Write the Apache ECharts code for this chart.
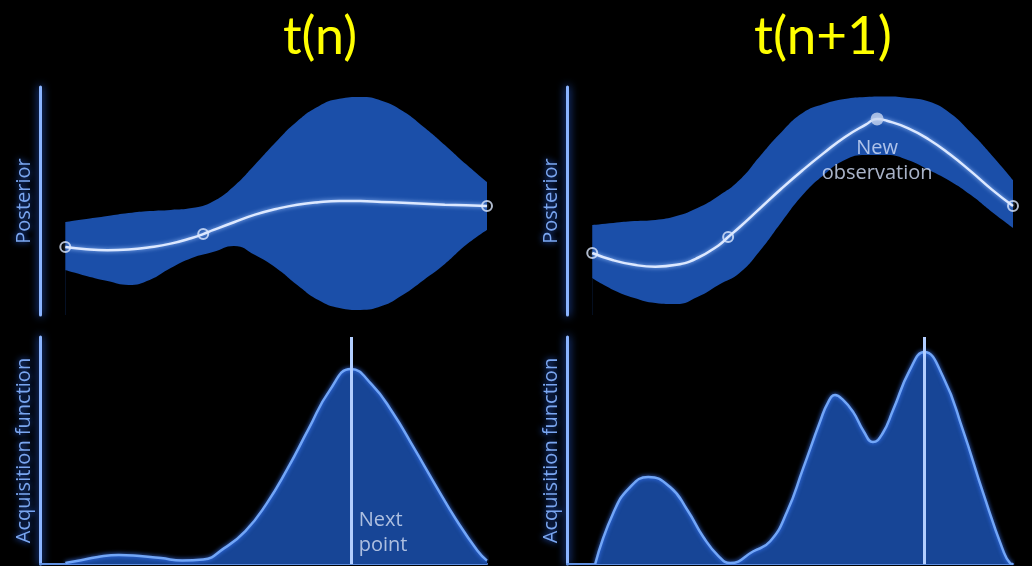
<!DOCTYPE html>
<html>
<head>
<meta charset="utf-8">
<title>t(n) / t(n+1)</title>
<script src="https://cdn.jsdelivr.net/npm/echarts@6/dist/echarts.min.js"></script>
<style>
  html, body { margin: 0; padding: 0; background: #000; }
  #main { width: 1032px; height: 566px; }
</style>
</head>
<body>
<div id="main"></div>
<script>
// ---- data (y on a 0..10 scale) ----
var titles = ['t(n)', 't(n+1)'];

// posterior band, shared x samples
var bandX = [0, 0.5, 1, 1.5, 2, 2.5, 3, 3.5, 4, 4.5, 5, 5.5, 6, 6.5, 7, 7.5, 8, 8.5, 9, 9.5, 10];
var bandUpperN = [4.08, 4.21, 4.34, 4.47, 4.56, 4.61, 4.69, 4.98, 5.65, 6.60, 7.60, 8.50, 9.15, 9.48, 9.56, 9.40, 8.95, 8.25, 7.46, 6.62, 5.83];
var bandLowerN = [1.97, 1.71, 1.49, 1.32, 1.54, 2.06, 2.50, 2.76, 3.03, 2.63, 2.06, 1.32, 0.66, 0.31, 0.22, 0.39, 0.88, 1.54, 2.24, 3.07, 3.73];
var bandUpperN1 = [3.95, 4.04, 4.12, 4.17, 4.34, 4.69, 5.22, 5.92, 7.00, 8.03, 8.86, 9.25, 9.47, 9.56, 9.58, 9.52, 9.36, 8.86, 8.00, 7.00, 5.92];
var bandLowerN1 = [1.62, 1.10, 0.75, 0.53, 0.48, 0.79, 1.32, 1.84, 2.85, 4.08, 5.26, 6.14, 6.80, 7.02, 7.02, 6.80, 6.36, 5.88, 5.26, 4.52, 3.82];

// posterior mean
var meanXN = [0, 0.5, 1, 1.5, 2, 2.5, 3, 3.27, 3.5, 4, 4.5, 5, 5.5, 6, 6.5, 7, 7.5, 8, 8.5, 9, 9.5, 10];
var meanN = [2.98, 2.88, 2.84, 2.87, 2.97, 3.13, 3.38, 3.55, 3.72, 4.07, 4.40, 4.65, 4.84, 4.95, 5.00, 5.00, 4.96, 4.92, 4.88, 4.84, 4.81, 4.78];
var meanXN1 = [0, 0.5, 1, 1.5, 2, 2.5, 3, 3.23, 3.5, 4, 4.5, 5, 5.5, 6, 6.5, 6.77, 7, 7.5, 8, 8.5, 9, 9.5, 10];
var meanN1 = [2.72, 2.40, 2.20, 2.12, 2.20, 2.50, 3.05, 3.42, 3.85, 4.70, 5.55, 6.35, 7.10, 7.80, 8.35, 8.60, 8.52, 8.20, 7.70, 7.05, 6.30, 5.50, 4.78];

// observations
var obsXN = [0, 3.27, 10];
var obsYN = [2.98, 3.55, 4.78];
var obsXN1 = [0, 3.23, 10];
var obsYN1 = [2.72, 3.42, 4.78];
var newObs = [6.77, 8.60];

// acquisition functions
var acqXN = [0, 0.27, 0.77, 1.27, 1.77, 2.27, 2.77, 3.27, 3.77, 4.27, 4.77, 5.27, 5.77, 6.27, 6.77, 7.27, 7.77, 8.27, 8.77, 9.27, 9.77, 10];
var acqN = [0.04, 0.13, 0.31, 0.40, 0.35, 0.26, 0.15, 0.20, 0.70, 1.45, 2.65, 4.20, 5.95, 7.65, 8.59, 7.90, 6.65, 5.10, 3.50, 1.95, 0.60, 0.15];
var acqXN1 = [0.07, 0.5, 0.9, 1.33, 1.85, 2.26, 2.64, 3.0, 3.28, 3.82, 4.23, 4.63, 5.01, 5.42, 5.6, 5.77, 5.95, 6.2, 6.45, 6.67, 6.9, 7.15, 7.55, 7.89, 8.34, 8.81, 9.29, 9.76, 9.93, 10];
var acqN1 = [0, 2.25, 3.39, 3.83, 3.39, 2.38, 1.19, 0.35, 0.04, 0.55, 1.00, 2.30, 4.20, 6.30, 7.10, 7.44, 7.25, 6.70, 5.85, 5.37, 5.75, 6.78, 8.55, 9.34, 8.24, 5.90, 3.13, 0.62, 0.04, 0];
var nextX = [6.77, 7.89];

// ---- styles ----
var bandColor = '#1b4fa9';
var acqFill = '#174596';
var meanColor = '#dce8ff';
var acqLine = '#72a6f7';
var axisColor = '#8ab4ff';
var labelColor = '#7aa6f0';
var font = 'Open Sans';

function zip(xs, ys) {
    return xs.map(function (x, i) { return [x, ys[i]]; });
}

var grids = [
    { left: 40, top: 87, width: 447, height: 228 },
    { left: 567, top: 87, width: 446, height: 228 },
    { left: 40, top: 337, width: 447, height: 227 },
    { left: 567, top: 337, width: 446, height: 227 }
];

var xAxes = grids.map(function (g, i) {
    return {
        type: 'value', gridIndex: i, min: -0.6, max: 10,
        axisLine: { show: i >= 2, lineStyle: { color: '#5f8fe0', width: 2 } },
        axisTick: { show: false }, axisLabel: { show: false }, splitLine: { show: false }
    };
});

var yAxes = grids.map(function (g, i) {
    return {
        type: 'value', gridIndex: i, min: 0, max: 10,
        name: i < 2 ? 'Posterior' : 'Acquisition function',
        nameLocation: 'middle', nameRotate: 90, nameGap: 6,
        nameTextStyle: {
            color: labelColor, fontFamily: font, fontSize: 20,
            textShadowColor: '#2f6fff', textShadowBlur: 6
        },
        axisLine: {
            show: true, onZero: false,
            lineStyle: { color: axisColor, width: 3, shadowColor: '#2f6fff', shadowBlur: 8 }
        },
        axisTick: { show: false }, axisLabel: { show: false }, splitLine: { show: false }
    };
});

// band = upper area in blue, lower area painted back in black on top of it
function posteriorSeries(idx, upper, lower, mx, my, ox, oy) {
    return [{
        type: 'line', xAxisIndex: idx, yAxisIndex: idx,
        data: zip(bandX, upper), smooth: true, symbol: 'none',
        lineStyle: { width: 0, opacity: 0 },
        areaStyle: { color: bandColor, opacity: 1 }, silent: true, z: 1
    }, {
        type: 'line', xAxisIndex: idx, yAxisIndex: idx,
        data: zip(bandX, lower), smooth: true, symbol: 'none',
        lineStyle: { width: 0, opacity: 0 },
        areaStyle: { color: '#000', opacity: 1 }, silent: true, z: 2
    }, {
        type: 'line', xAxisIndex: idx, yAxisIndex: idx,
        data: zip(mx, my), smooth: true, symbol: 'none',
        lineStyle: { color: meanColor, width: 2.5, shadowColor: '#9cc2ff', shadowBlur: 4 },
        silent: true, z: 3
    }, {
        type: 'scatter', xAxisIndex: idx, yAxisIndex: idx,
        data: zip(ox, oy), symbol: 'circle', symbolSize: 10,
        itemStyle: { color: 'rgba(0,0,0,0)', borderColor: meanColor, borderWidth: 2 },
        silent: true, z: 4
    }];
}

function acquisitionSeries(idx, ax, ay, nx) {
    return [{
        type: 'line', xAxisIndex: idx, yAxisIndex: idx,
        data: zip(ax, ay), smooth: true, symbol: 'none',
        lineStyle: { color: acqLine, width: 2.5, shadowColor: '#3d7bff', shadowBlur: 4 },
        areaStyle: { color: acqFill, opacity: 1 },
        silent: true,
        markLine: {
            silent: true, symbol: 'none', label: { show: false },
            lineStyle: { color: '#b2ceff', width: 3, type: 'solid' },
            data: [{ xAxis: nx }]
        }
    }];
}

var series = []
    .concat(posteriorSeries(0, bandUpperN, bandLowerN, meanXN, meanN, obsXN, obsYN))
    .concat(posteriorSeries(1, bandUpperN1, bandLowerN1, meanXN1, meanN1, obsXN1, obsYN1))
    .concat(acquisitionSeries(2, acqXN, acqN, nextX[0]))
    .concat(acquisitionSeries(3, acqXN1, acqN1, nextX[1]));

// new observation, filled dot with its caption
series.push({
    type: 'scatter', xAxisIndex: 1, yAxisIndex: 1,
    data: [newObs], symbol: 'circle', symbolSize: 13,
    itemStyle: { color: '#c8d6f0' }, silent: true, z: 5,
    label: {
        show: true, position: 'bottom', distance: 10,
        formatter: 'New\nobservation', align: 'center',
        color: '#d3e0fa', fontFamily: font, fontSize: 20, lineHeight: 25
    }
});

// caption next to the chosen next point
series.push({
    type: 'scatter', xAxisIndex: 2, yAxisIndex: 2,
    data: [[nextX[0], 1.37]], symbolSize: 0, silent: true, z: 5,
    label: {
        show: true, position: 'right', distance: 8,
        formatter: 'Next\npoint', align: 'left',
        color: '#d3ddf3', fontFamily: font, fontSize: 20, lineHeight: 25
    }
});

var chart = echarts.init(document.getElementById('main'));
chart.setOption({
    backgroundColor: '#000',
    animation: false,
    grid: grids,
    xAxis: xAxes,
    yAxis: yAxes,
    graphic: [{
        type: 'text', x: 320, y: 37,
        style: { text: titles[0], fill: '#ffff00', font: '52px Lato', textAlign: 'center', textVerticalAlign: 'middle' }
    }, {
        type: 'text', x: 823, y: 37,
        style: { text: titles[1], fill: '#ffff00', font: '53px Lato', textAlign: 'center', textVerticalAlign: 'middle' }
    }],
    series: series
});
</script>
</body>
</html>
